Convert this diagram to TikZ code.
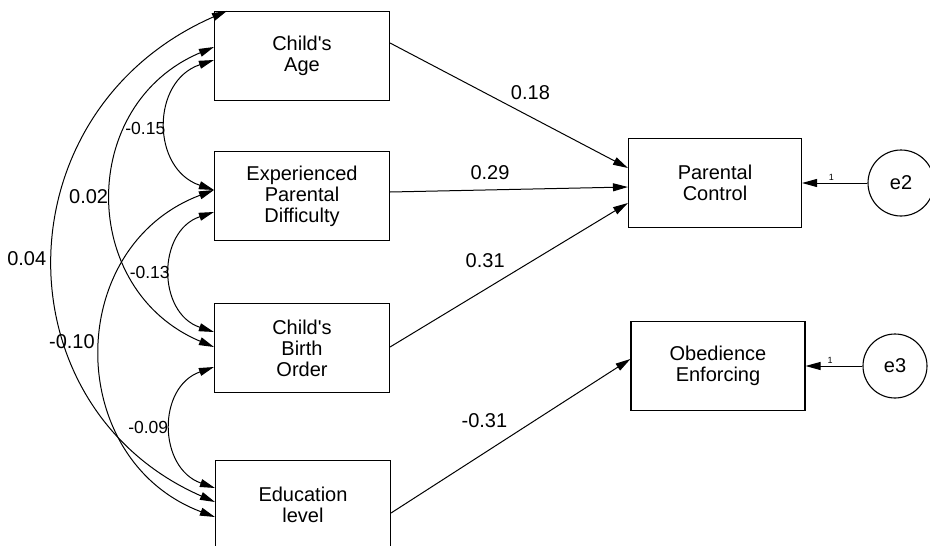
\documentclass[tikz,border=0pt]{standalone}
\usepackage{fontspec}
\setmainfont{Liberation Sans}[Ligatures=TeXOff]
\usetikzlibrary{arrows.meta}

\begin{document}
\begin{tikzpicture}[x=1pt,y=1pt,>={Triangle[length=15pt,width=8pt]},line width=1pt]

% size of each box
\def\bw{175pt}
\def\bh{89pt}
% node style definition
\tikzstyle{block} = [
	draw, rectangle, align=center, line width=1.1pt,
	minimum height=\bh, minimum width=\bw,
	font=\fontsize{20}{21}\selectfont ];
\tikzstyle{err} = [draw, circle, line width=1.1pt, minimum size=66pt,
	font=\fontsize{20}{21}\selectfont];
\tikzstyle{coef} = [font=\fontsize{20}{22}\selectfont];
\tikzstyle{cov} = [font=\fontsize{17.5}{20}\selectfont, inner sep=1pt];
\tikzstyle{one} = [font=\fontsize{9}{10}\selectfont, inner sep=2pt];

\useasboundingbox (0,0) rectangle (930,-546);

\node[block] (age) at (302,-56) {Child's\\Age};
\node[block] (diff) at (302,-196) {Experienced\\Parental\\Difficulty};
\node[block] (birth) at (302,-348) {Child's\\Birth\\Order};
\node[block] (edu) at (303,-505) {Education\\level};

\node[block, minimum width=173pt] (pc) at (715,-183) {Parental\\Control};
\node[block, minimum width=174pt] (obey) at (718,-366) {Obedience\\Enforcing};

\node[err] (e2) at (901,-183) {e2};
\node[err, minimum size=64pt] (e3) at (895,-366) {e3};

% paths
\draw[->] ([yshift=13pt]age.east) -- node[coef, pos=0.59, above=13pt] (p18) {0.18} ([yshift=15pt]pc.west);
\draw[->] ([yshift=4pt]diff.east) -- node[coef, pos=0.42, above=6pt] (p29) {0.29} ([yshift=-4pt]pc.west);
\draw[->] ([yshift=1pt]birth.east) -- node[coef, pos=0.4, above=18pt] (p31) {0.31} ([yshift=-20pt]pc.west);
\draw[->] ([yshift=-8pt]edu.east) -- node[coef, pos=0.39, above=21pt] (p31n) {-0.31} ([yshift=7pt]obey.west);

\draw[->] (e2) -- node[one, pos=0.55, above] (w2) {1} (pc);
\draw[->] (e3) -- node[one, pos=0.57, above] (w3) {1} (obey);

% covariances
\draw[<->] ([yshift=-4pt]age.west) .. controls +(-63,-21) and +(-63,21) .. node[cov, pos=0.52, left] (c15) {-0.15} ([yshift=6pt]diff.west);
\draw[<->] ([yshift=9pt]age.west) .. controls +(-136,-57) and +(-136,57) .. node[coef, pos=0.5, left] (c02) {0.02} ([yshift=1pt]birth.west);
\draw[<->] ([xshift=13pt]age.north west) .. controls +(-228,-100) and +(-217,95) .. node[coef, pos=0.5, left=4pt] (c04) {0.04} ([yshift=3pt]edu.west);
\draw[<->] ([yshift=-16pt]diff.west) .. controls +(-57,-19) and +(-57,19) .. node[cov, pos=0.5, left] (c13) {-0.13} ([yshift=16pt]birth.west);
\draw[<->] ([yshift=6pt]diff.west) .. controls +(-151,-57) and +(-151,57) .. node[coef, pos=0.47, left=3pt] (c10) {-0.10} ([yshift=-12pt]edu.west);
\draw[<->] ([yshift=-19pt]birth.west) .. controls +(-57,-20) and +(-57,20) .. node[cov, pos=0.5, left=2pt] (c09) {-0.09} ([yshift=17pt]edu.west);

\end{tikzpicture}
\end{document}
